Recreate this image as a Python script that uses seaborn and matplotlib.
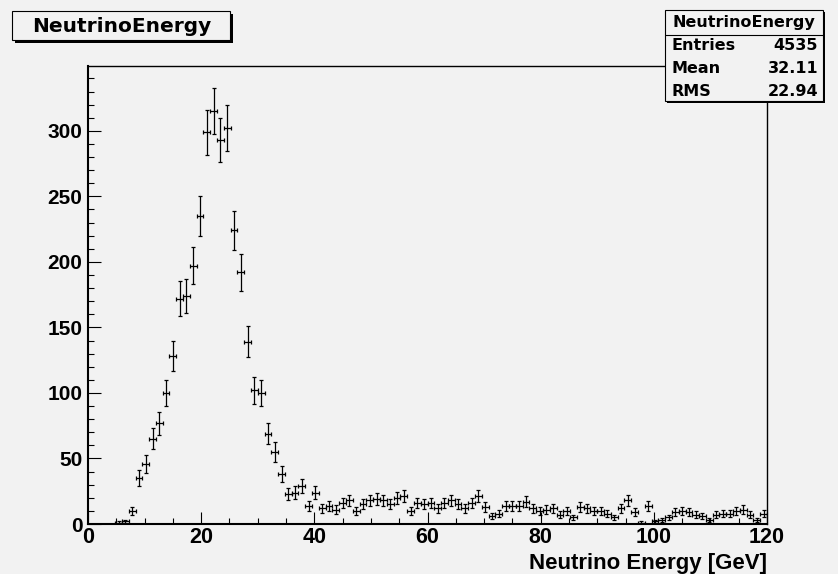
import numpy as np
import matplotlib
matplotlib.use('Agg')
import matplotlib.pyplot as plt
from matplotlib.patches import Rectangle
from matplotlib.lines import Line2D
from matplotlib.ticker import MultipleLocator
import seaborn as sns

# histogram binning (100 bins, 0-120 GeV)
bin_lo = 0.0
bin_hi = 120.0
n_bins = 100

# bin contents
counts = [0, 0, 0, 0, 1, 2, 10, 35, 46, 65,
          77, 100, 128, 172, 174, 197, 235, 299, 315, 293,
          302, 224, 192, 139, 102, 100, 69, 55, 38, 23,
          24, 29, 14, 24, 12, 14, 11, 16, 18, 10,
          15, 18, 19, 18, 15, 20, 21, 10, 16, 15,
          16, 12, 16, 18, 15, 12, 16, 21, 13, 6,
          8, 14, 14, 14, 17, 12, 10, 11, 12, 7,
          10, 5, 13, 12, 10, 10, 8, 5, 12, 18,
          9, 1, 14, 2, 3, 5, 9, 10, 9, 7,
          6, 3, 7, 8, 8, 10, 11, 7, 3, 8]

hist_title = 'NeutrinoEnergy'
stat_names = ['Entries', 'Mean', 'RMS']
stat_values = ['4535', '32.11', '22.94']
x_label = 'Neutrino Energy [GeV]'

W, H = 838, 574
bg = '#f2f2f2'
arial = 'Liberation Sans'
wide = 'DejaVu Sans'

sns.set_style('ticks', {'axes.facecolor': bg, 'figure.facecolor': bg,
                        'axes.edgecolor': 'black', 'text.color': 'black',
                        'xtick.color': 'black', 'ytick.color': 'black',
                        'axes.labelcolor': 'black'})
plt.rcParams['font.family'] = [arial, 'DejaVu Sans']
plt.rcParams['font.weight'] = 'bold'


def fx(px):
    return px / W


def fy(py):
    return 1 - py / H


counts = np.array(counts, dtype=float)
width = (bin_hi - bin_lo) / n_bins
centers = bin_lo + width * (np.arange(n_bins) + 0.5)
filled = counts > 0

fig = plt.figure(figsize=(W / 100, H / 100), dpi=100, facecolor=bg)
ax = fig.add_axes([fx(88), fy(524), fx(767) - fx(88), fy(66) - fy(524)])

ax.errorbar(centers[filled], counts[filled], xerr=width / 2,
            yerr=np.sqrt(counts[filled]), fmt='none', ecolor='black',
            elinewidth=0.9, capsize=1.5, capthick=0.9)

ax.set_xlim(bin_lo, bin_hi)
ax.set_ylim(0, 349.5)
ax.xaxis.set_major_locator(MultipleLocator(20))
ax.xaxis.set_minor_locator(MultipleLocator(5))
ax.yaxis.set_major_locator(MultipleLocator(50))
ax.yaxis.set_minor_locator(MultipleLocator(10))
ax.tick_params(which='both', direction='in', top=False, right=False,
               width=0.8, color='black', labelcolor='black')
ax.tick_params(which='major', length=9)
ax.tick_params(which='minor', length=4.5)
ax.tick_params(axis='y', which='major', labelsize=15, pad=4)
ax.tick_params(axis='x', which='major', labelsize=15.5, pad=2)
for lab in ax.get_xticklabels() + ax.get_yticklabels():
    lab.set_fontweight('bold')
    lab.set_fontfamily(arial)
for side in ['left', 'bottom']:
    ax.spines[side].set_linewidth(1.5)
for side in ['top', 'right']:
    ax.spines[side].set_linewidth(1.0)

fig.text(fx(767), fy(564), x_label, ha='right', va='center', color='black',
         fontsize=16, fontweight='bold', fontfamily=arial)


def shadow_box(x0, y0, x1, y1, sh=2):
    # box with a ROOT style drop shadow, pixel coordinates
    fig.patches.append(Rectangle((fx(x0 + sh), fy(y1 + sh)), fx(x1 - x0), fy(y0) - fy(y1),
                                 transform=fig.transFigure, facecolor='black',
                                 edgecolor='none', zorder=5))
    fig.patches.append(Rectangle((fx(x0), fy(y1)), fx(x1 - x0), fy(y0) - fy(y1),
                                 transform=fig.transFigure, facecolor=bg,
                                 edgecolor='black', linewidth=0.8, zorder=6))


# title box
shadow_box(12, 11, 230, 40, sh=3)
fig.text(fx(122), fy(26), hist_title, ha='center', va='center', fontsize=14.5,
         fontweight='bold', fontfamily=wide, color='black', zorder=7)

# stats box
shadow_box(665, 10, 823, 101)
fig.lines.append(Line2D([fx(665), fx(823)], [fy(35), fy(35)], transform=fig.transFigure,
                        color='black', linewidth=0.8, zorder=7))
fig.text(fx(744), fy(22.5), hist_title, ha='center', va='center', fontsize=11.5,
         fontweight='bold', fontfamily=wide, color='black', zorder=7)
for k, (name, val) in enumerate(zip(stat_names, stat_values)):
    yy = 46 + 22.5 * k
    fig.text(fx(671), fy(yy), name, ha='left', va='center', fontsize=11.5,
             fontweight='bold', fontfamily=wide, color='black', zorder=7)
    fig.text(fx(818), fy(yy), val, ha='right', va='center', fontsize=11.5,
             fontweight='bold', fontfamily=wide, color='black', zorder=7)

fig.savefig('out.png', dpi=100, facecolor=bg)
